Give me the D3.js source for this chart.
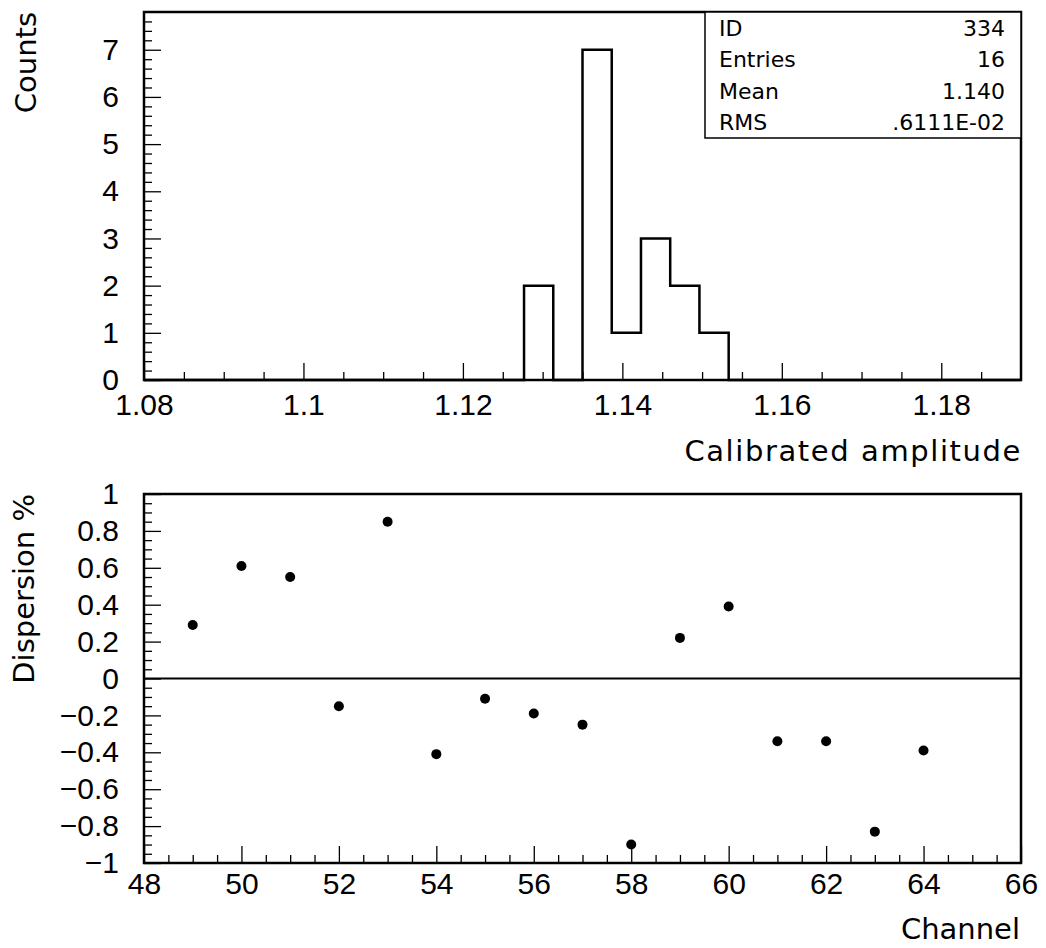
<!DOCTYPE html>
<html>
<head>
<meta charset="utf-8">
<script src="https://cdn.jsdelivr.net/npm/d3@7"></script>
<style>
  html, body { margin: 0; padding: 0; background: #fff; }
  svg { display: block; }
  .tick text { font-family: "Liberation Sans", Arial, sans-serif; font-size: 30px; fill: #000; }
  .title { font-family: "DejaVu Sans", sans-serif; font-size: 29px; fill: #000; }
  .stat { font-family: "DejaVu Sans", sans-serif; font-size: 22px; fill: #000; }
</style>
</head>
<body>
<script>
// Histogram of calibrated amplitudes: 30 bins between 1.08 and 1.19
const histRange = [1.08, 1.19];
const histCounts = [0,0,0,0,0,0,0,0,0,0,0,0,0,2,0,7,1,3,2,1,0,0,0,0,0,0,0,0,0,0];
const histXTicks = [1.08, 1.1, 1.12, 1.14, 1.16, 1.18];
const histYTicks = [0, 1, 2, 3, 4, 5, 6, 7];
const histYMax = 7.8;

// Statistics box
const statNames = ["ID", "Entries", "Mean", "RMS"];
const statValues = ["334", "16", "1.140", ".6111E-02"];

// Dispersion per channel (percent)
const channels = [49,50,51,52,53,54,55,56,57,58,59,60,61,62,63,64];
const dispersion = [0.29,0.61,0.55,-0.15,0.85,-0.41,-0.11,-0.19,-0.25,-0.90,0.22,0.39,-0.34,-0.34,-0.83,-0.39];
const chanTicks = [48,50,52,54,56,58,60,62,64,66];
const dispTicks = [-1,-0.8,-0.6,-0.4,-0.2,0,0.2,0.4,0.6,0.8,1];

const W = 1046, H = 948;
const svg = d3.select("body").append("svg").attr("width", W).attr("height", H);

const left = 144, right = 1021;
const top1 = 12, bot1 = 380;
const top2 = 494, bot2 = 863;
const majorLen = 17, minorLen = 8;

function fmt(v) {
  const s = d3.format("")(+v.toFixed(2));
  return s.replace("-", "\u2212");
}

function styleAxis(g) {
  g.select(".domain").remove();
  g.selectAll(".tick line").attr("stroke", "#000").attr("stroke-width", 1.3);
}

// ---------- Upper panel: histogram ----------
const x1 = d3.scaleLinear().domain(histRange).range([left, right]);
const y1 = d3.scaleLinear().domain([0, histYMax]).range([bot1, top1]);

// minor ticks
svg.append("g").attr("transform", `translate(0,${bot1})`)
  .call(d3.axisBottom(x1).tickValues(d3.range(1.085, 1.19, 0.005).filter(v => Math.abs(((v - 1.08) / 0.02) % 1) > 0.1 && Math.abs(((v - 1.08) / 0.02) % 1) < 0.9)).tickSize(-minorLen).tickFormat(""))
  .call(styleAxis);
svg.append("g").attr("transform", `translate(${left},0)`)
  .call(d3.axisLeft(y1).tickValues(d3.range(0.2, histYMax, 0.2).filter(v => Math.abs(v - Math.round(v)) > 0.05)).tickSize(-minorLen).tickFormat(""))
  .call(styleAxis);

// major ticks with labels
svg.append("g").attr("transform", `translate(0,${bot1})`)
  .call(d3.axisBottom(x1).tickValues(histXTicks).tickSize(-majorLen).tickPadding(14).tickFormat(d => fmt(d)))
  .call(styleAxis);
svg.append("g").attr("transform", `translate(${left},0)`)
  .call(d3.axisLeft(y1).tickValues(histYTicks).tickSize(-majorLen).tickPadding(25).tickFormat(d => fmt(d)))
  .call(styleAxis);

// histogram outline
const binW = (histRange[1] - histRange[0]) / histCounts.length;
const pts = [[histRange[0], 0]];
histCounts.forEach((c, i) => {
  pts.push([histRange[0] + i * binW, c]);
  pts.push([histRange[0] + (i + 1) * binW, c]);
});
pts.push([histRange[1], 0]);
svg.append("path")
  .attr("d", d3.line().x(d => x1(d[0])).y(d => y1(d[1]))(pts))
  .attr("fill", "none").attr("stroke", "#000").attr("stroke-width", 2.5)
  .attr("stroke-linejoin", "miter");

// frame
svg.append("rect").attr("x", left).attr("y", top1).attr("width", right - left).attr("height", bot1 - top1)
  .attr("fill", "none").attr("stroke", "#000").attr("stroke-width", 2.5);

// statistics box
const boxL = 705, rowH = (138 - top1) / statNames.length;
svg.append("rect").attr("x", boxL).attr("y", top1).attr("width", right - boxL).attr("height", rowH * statNames.length)
  .attr("fill", "#fff").attr("stroke", "#000").attr("stroke-width", 1.5);
statNames.forEach((n, i) => {
  const yb = top1 + (i + 1) * rowH - 8;
  svg.append("text").attr("class", "stat").attr("x", 719).attr("y", yb).text(n);
  svg.append("text").attr("class", "stat").attr("x", 1005).attr("y", yb).attr("text-anchor", "end").text(statValues[i]);
});

svg.append("text").attr("class", "title").attr("text-anchor", "end")
  .attr("transform", `translate(36,${top1}) rotate(-90)`).text("Counts");
svg.append("text").attr("class", "title").attr("text-anchor", "end")
  .attr("letter-spacing", "1.6px")
  .attr("x", 1022).attr("y", 461).text("Calibrated amplitude");

// ---------- Lower panel: dispersion per channel ----------
const x2 = d3.scaleLinear().domain([48, 66]).range([left, right]);
const y2 = d3.scaleLinear().domain([-1, 1]).range([bot2, top2]);

svg.append("g").attr("transform", `translate(0,${bot2})`)
  .call(d3.axisBottom(x2).tickValues(d3.range(48.5, 66, 0.5).filter(v => v % 2 !== 0)).tickSize(-minorLen).tickFormat(""))
  .call(styleAxis);
svg.append("g").attr("transform", `translate(${left},0)`)
  .call(d3.axisLeft(y2).tickValues(d3.range(-0.95, 1, 0.05).filter(v => Math.abs(v * 5 - Math.round(v * 5)) > 0.05)).tickSize(-minorLen).tickFormat(""))
  .call(styleAxis);

svg.append("g").attr("transform", `translate(0,${bot2})`)
  .call(d3.axisBottom(x2).tickValues(chanTicks).tickSize(-majorLen).tickPadding(10).tickFormat(d => fmt(d)))
  .call(styleAxis);
svg.append("g").attr("transform", `translate(${left},0)`)
  .call(d3.axisLeft(y2).tickValues(dispTicks).tickSize(-majorLen).tickPadding(25).tickFormat(d => fmt(d)))
  .call(styleAxis);

// zero reference line
svg.append("line").attr("x1", left).attr("x2", right).attr("y1", y2(0)).attr("y2", y2(0))
  .attr("stroke", "#000").attr("stroke-width", 2.2);

// data points
svg.append("g").selectAll("circle").data(channels).join("circle")
  .attr("cx", d => x2(d)).attr("cy", (d, i) => y2(dispersion[i])).attr("r", 5).attr("fill", "#000");

svg.append("rect").attr("x", left).attr("y", top2).attr("width", right - left).attr("height", bot2 - top2)
  .attr("fill", "none").attr("stroke", "#000").attr("stroke-width", 2.5);

svg.append("text").attr("class", "title").attr("text-anchor", "end")
  .attr("transform", `translate(34,${top2}) rotate(-90)`).text("Dispersion %");
svg.append("text").attr("class", "title").attr("text-anchor", "end")
  .attr("x", 1020).attr("y", 939).text("Channel");
</script>
</body>
</html>
